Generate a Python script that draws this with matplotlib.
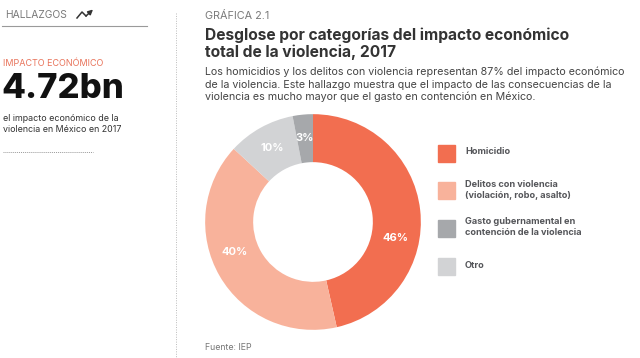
import matplotlib.pyplot as plt
import numpy as np
from matplotlib.lines import Line2D
from matplotlib.patches import FancyArrowPatch

categories = ['Homicidio', 'Delitos con violencia\n(violación, robo, asalto)',
              'Gasto gubernamental en\ncontención de la violencia', 'Otro']
shares = [46, 40, 3, 10]
colors = ['#F26E50', '#F8B29B', '#A6A8AB', '#D2D3D5']
# order of the wedges clockwise from the top
pie_order = [0, 1, 3, 2]
# small angular nudges of the percent labels (degrees)
label_nudge = [-17, -9, 0, 0]

W, H = 640, 358
plt.rcParams['font.family'] = ['Inter', 'DejaVu Sans']

fig = plt.figure(figsize=(6.4, 3.58), dpi=100)


def fx(x):
    return x / W


def fy(y):
    return 1 - y / H


def txt(x, y, s, **kw):
    kw.setdefault('va', 'center')
    kw.setdefault('ha', 'left')
    fig.text(fx(x), fy(y), s, **kw)


def line(xs, ys, **kw):
    fig.add_artist(Line2D([fx(v) for v in xs], [fy(v) for v in ys],
                          transform=fig.transFigure, **kw))


# left panel
txt(5, 15, 'HALLAZGOS', fontsize=7.4, color='#7a7a7a')
line([77, 82, 86], [18, 12, 16], color='#333333', lw=1.1)
fig.add_artist(FancyArrowPatch((fx(86), fy(16)), (fx(93), fy(9.5)),
                               transform=fig.transFigure, arrowstyle='-|>',
                               color='#333333', lw=1.1, mutation_scale=7,
                               shrinkA=0, shrinkB=0))
line([2, 147], [26, 26], color='#9a9a9a', lw=0.8)
txt(3, 63, 'IMPACTO ECONÓMICO', fontsize=6.5, color='#E8735A')
txt(1, 89, '4.72bn', fontsize=25, fontweight='heavy', color='#111111')
txt(3, 118, 'el impacto económico de la', fontsize=6.4, color='#333333')
txt(3, 129, 'violencia en México en 2017', fontsize=6.4, color='#333333')
line([3, 93], [152, 152], color='#9a9a9a', lw=0.7, ls=(0, (1, 1)))
line([176, 176], [13, 358], color='#bbbbbb', lw=0.7, ls=(0, (1, 1.5)))

# right panel text
txt(205, 16, 'GRÁFICA 2.1', fontsize=7.8, color='#7a7a7a')
txt(205, 35, 'Desglose por categorías del impacto económico', fontsize=11.2,
    fontweight='bold', color='#333333')
txt(205, 52, 'total de la violencia, 2017', fontsize=11.2, fontweight='bold', color='#333333')
subtitle = ['Los homicidios y los delitos con violencia representan 87% del impacto económico',
            'de la violencia. Este hallazgo muestra que el impacto de las consecuencias de la',
            'violencia es mucho mayor que el gasto en contención en México.']
for i, s in enumerate(subtitle):
    txt(205, 72 + i * 12.6, s, fontsize=7.7, color='#444444')
txt(205, 347, 'Fuente: IEP', fontsize=6.3, color='#777777')

# donut
cx, cy = 313, 222
ax = fig.add_axes([fx(cx - 110), fy(cy + 110), 220 / W, 220 / H])
vals = [shares[i] for i in pie_order]
cols = [colors[i] for i in pie_order]
wedges, _, autotexts = ax.pie(vals, colors=cols, startangle=90, counterclock=False,
                              wedgeprops=dict(width=0.445, edgecolor='none'),
                              autopct=lambda p: f'{p:.0f}%', pctdistance=0.78,
                              textprops=dict(color='white', fontsize=8, fontweight='bold'))
for k, (w, t) in enumerate(zip(wedges, autotexts)):
    i = pie_order[k]
    t.set_text(f'{shares[i]}%')
    ang = np.deg2rad((w.theta1 + w.theta2) / 2 + label_nudge[i])
    t.set_position((0.78 * np.cos(ang), 0.78 * np.sin(ang)))
ax.set_xlim(-1.02, 1.02)
ax.set_ylim(-1.02, 1.02)
ax.set_aspect('equal')
ax.axis('off')

# legend
leg_y = [153, 191, 228, 266]
for i, lab in enumerate(categories):
    fig.patches.append(plt.Rectangle((fx(438), fy(leg_y[i] + 8.5)), 17 / W, 17 / H,
                                     transform=fig.transFigure, color=colors[i]))
    txt(465, leg_y[i] - 1, lab, fontsize=6.6, fontweight='bold', color='#55565a',
        linespacing=1.35)

fig.savefig('out.png', dpi=100)
